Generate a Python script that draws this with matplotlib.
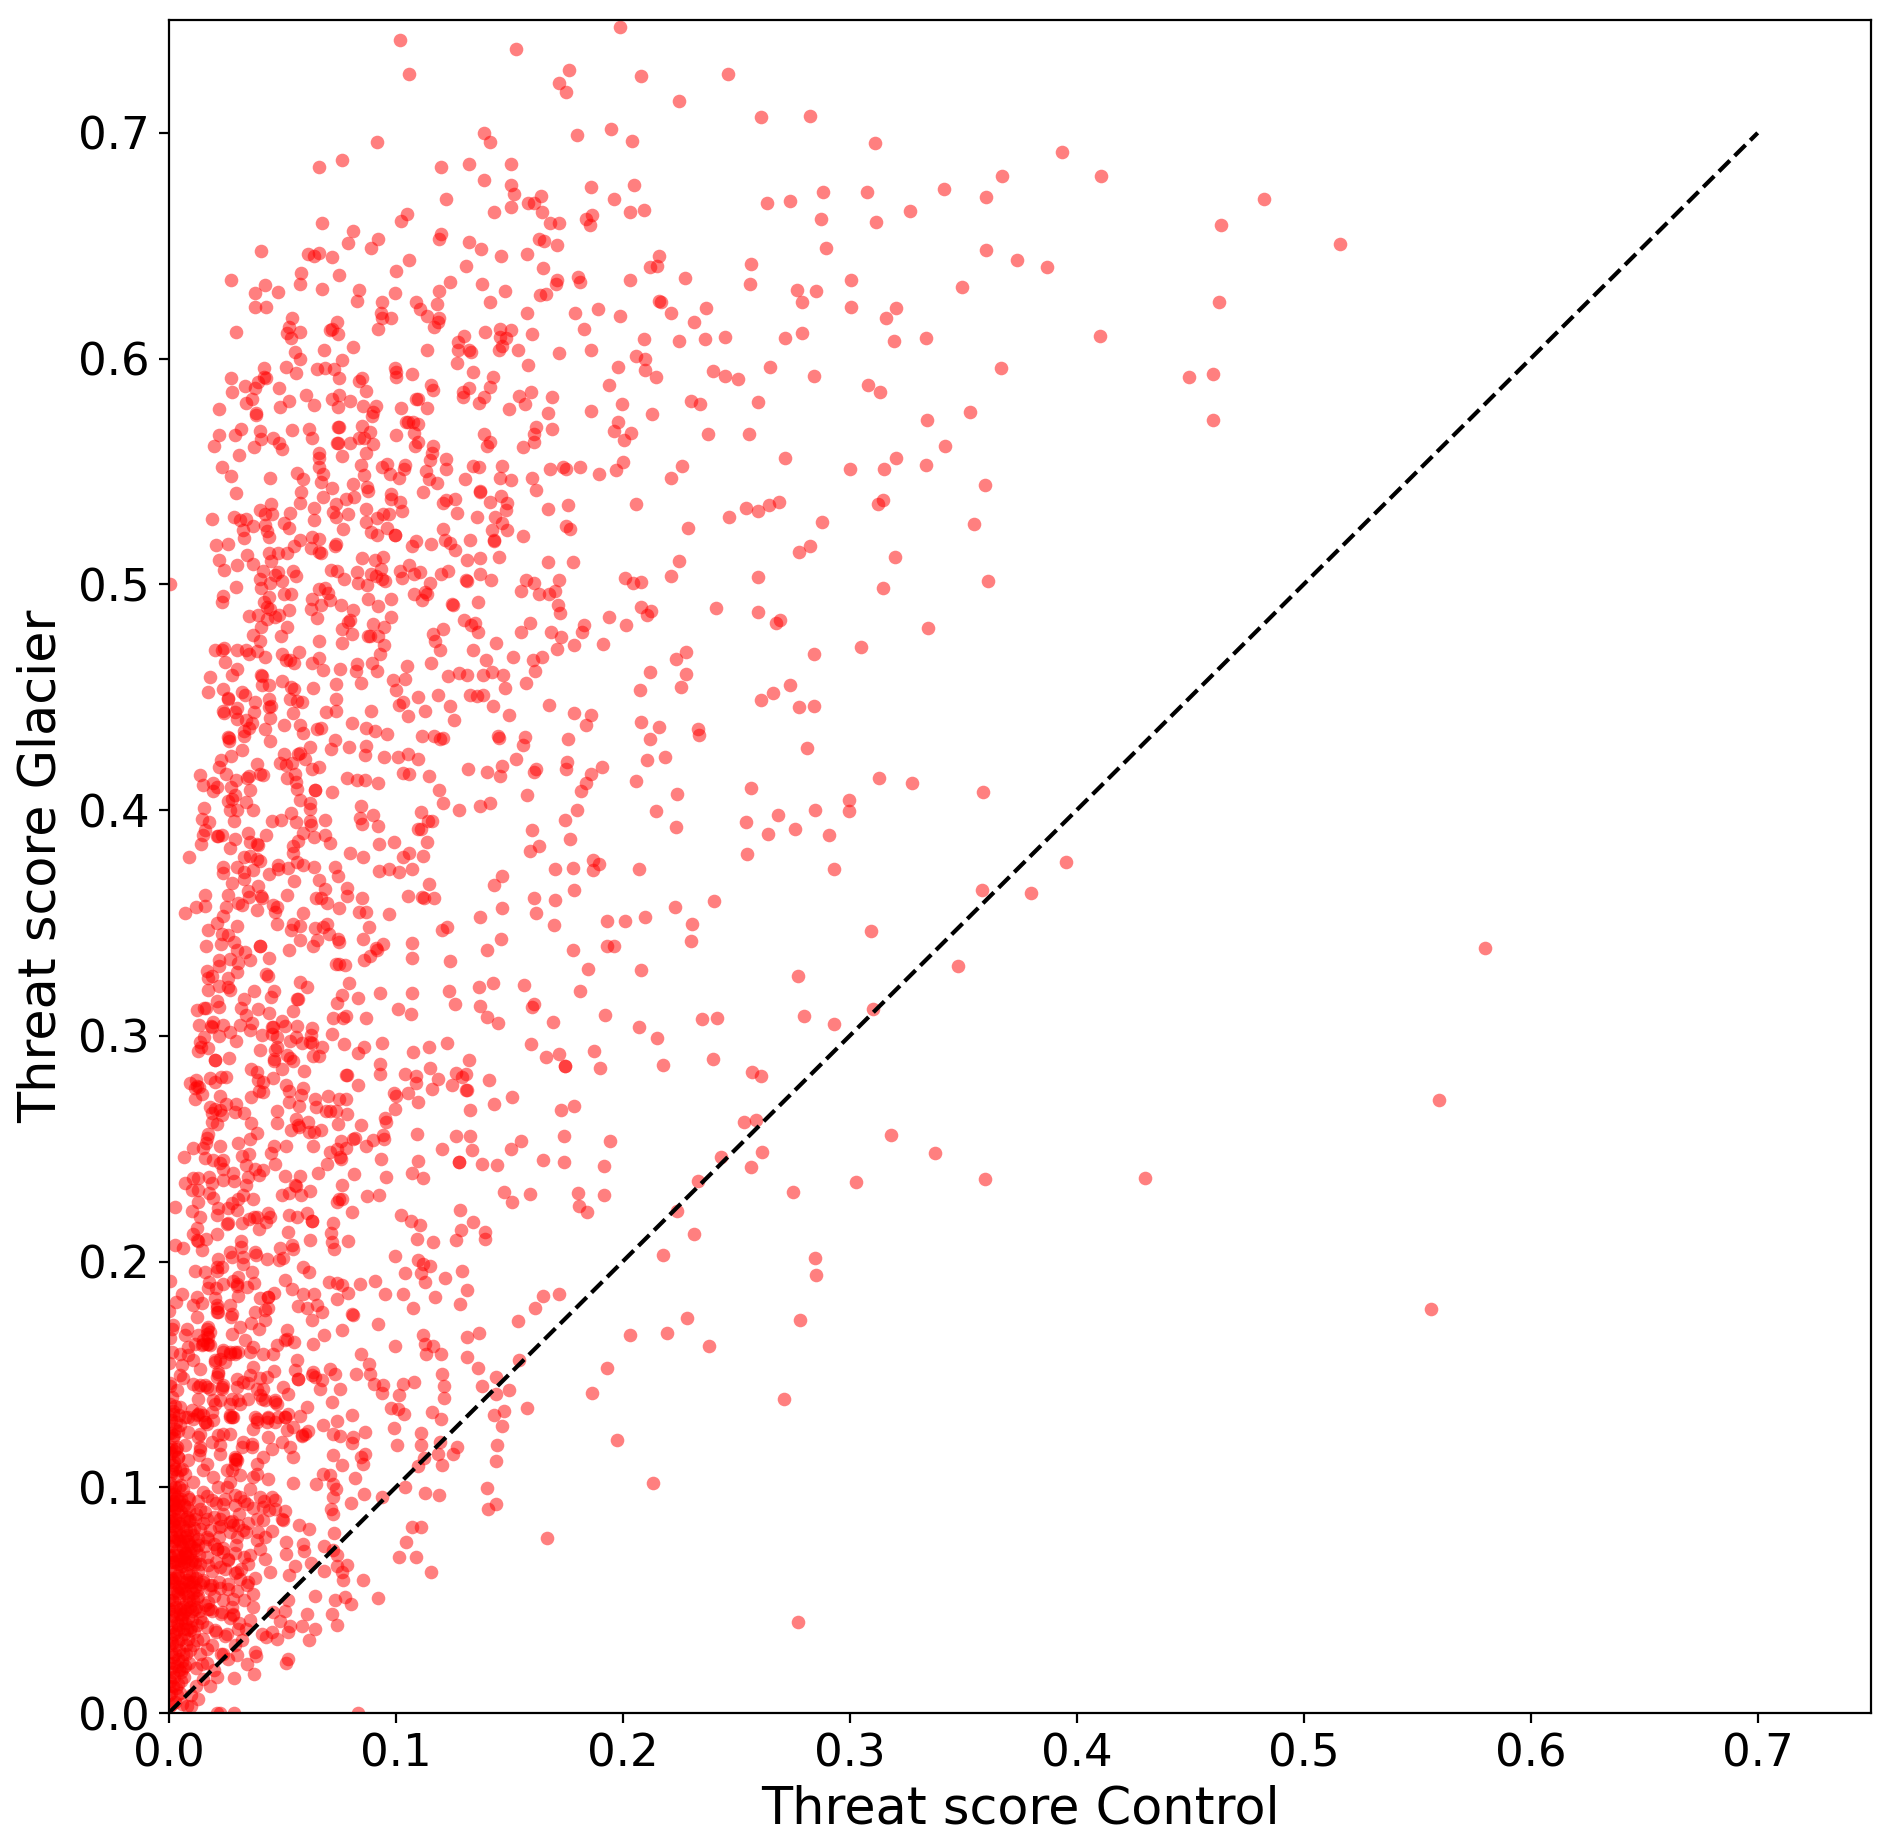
import numpy as np
import matplotlib
matplotlib.use("Agg")
import matplotlib.pyplot as plt

# Control, Glacier pairs, one list per part of the cloud
band_top = [
.102,.741,.106,.726,.153,.737,.1765,.728,.172,.722,.175,.718,.199,.747,.208,.725,.139,.700,.1415,.696,
.0916,.696,.180,.699,.195,.7015,.204,.6965,.066,.685,.0765,.688,.120,.685,.1325,.686,.151,.686,.139,.679,
.151,.677,.152,.673,.186,.676,.205,.677,.122,.6705,.1585,.669,.161,.669,.164,.672,.151,.667,.1435,.665,
.1645,.665,.196,.6705,.203,.665,.2095,.666,.168,.660,.172,.660,.184,.662,.1865,.6635,.1855,.659,.105,.664,
.1025,.661,.0675,.660,.081,.6565,.092,.653,.079,.651,.089,.649,.0405,.6475,.0615,.6465,.064,.6455,.066,.647,
.072,.645,.106,.6435,.120,.655,.119,.653,.1325,.6515,.1375,.6485,.1465,.6455,.158,.6465,.163,.653,.1655,.652,
.171,.6505,.100,.639,.131,.641,.165,.640,.1805,.636,.181,.634,.203,.635,.171,.635,.1705,.633,.212,.6405,
.215,.641,.216,.6455,.0275,.635,.0425,.6325,.038,.629,.048,.6295,.058,.633,.0585,.638,.0675,.631,.075,.637,
.084,.6305,.083,.6255,.038,.623,.043,.623,.0995,.629,.094,.625,.109,.625,.1105,.622,.119,.630,.124,.634,
.138,.633,.148,.630,.1635,.628,.166,.6285,.1415,.625,.118,.624,.216,.6255,.179,.620,.189,.622,.199,.619,
.158,.620,.0545,.618,.053,.614,.052,.6115,.054,.609,.058,.612,.074,.616,.072,.613,.071,.6125,.0745,.611,
.0935,.62,.094,.618,.098,.618,.092,.613,.114,.619,.119,.618,.1185,.616,.117,.614,.0295,.612,.130,.610,
.1275,.6075,.1395,.612,.146,.613,.151,.6125,.146,.6095,.1485,.609,.160,.611,.183,.613,.2095,.6085,.1275,.604,
.1325,.604,.133,.603,.147,.6055,.1455,.604,.154,.604,.114,.604,.081,.605,.0685,.604,.0555,.603,.058,.600,
.172,.6025,.186,.604,.206,.601,.210,.600,.0765,.5995,.127,.598,.1585,.597,.198,.5965,.210,.595,.2145,.592,
.042,.596,.0515,.5965,.0655,.5955,.069,.596,.073,.5955,.056,.5935,.0995,.596,.100,.594,.100,.592,.134,.594,
.107,.593,.143,.592,.042,.592,.043,.5915,.0275,.5915,.0395,.5895,.0335,.588,.038,.587,.075,.5915,.084,.590,
.085,.5915,.1155,.5885,.1165,.586,.1325,.587,.1415,.5875,.194,.5885,.0485,.587,.087,.5855,.028,.585,.1295,.585,
.1295,.583,.1595,.585,.1545,.5835,.157,.580,.169,.583,.075,.584,.072,.582,.0605,.584,.139,.583,.109,.582,
.110,.582,.0365,.582,.034,.5805,.053,.581,.080,.581,.1365,.5805,.1995,.580,.064,.5795,.049,.5785,.0855,.579,
.0915,.579,.0745,.5785,.114,.578,.022,.5775,.1025,.578,.150,.5775,.186,.577,.167,.576,.213,.5755,.0385,.576,
.0385,.575,.090,.5765,.0895,.5745,.1045,.572,.1055,.572,.1075,.572,.110,.571,.198,.572,.075,.5695,.0745,.5695,
.085,.570,.032,.569,.0545,.5685,.062,.569,.162,.5695,.161,.5665,.169,.569,.040,.568,.0885,.5675,.108,.567,
.196,.568,.2035,.567,.022,.566,.029,.566,.139,.5665,.046,.565,.063,.565,.084,.565,.086,.565,.0405,.5645,
.2005,.564,.100,.566,.074,.5625,.0745,.5625,.080,.5625,.090,.562,.110,.563,.1085,.5615,.0485,.5625,.1415,.563,
.140,.5615,.161,.563,.1165,.5615,.020,.5615,.0375,.561,.050,.560,.156,.561,.031,.5575,.087,.558,.116,.558,
.066,.558,.066,.556,.0765,.557,.115,.555,.122,.5555,.0845,.553,.096,.5535,.094,.552,.104,.553,.1035,.551,
.0235,.552,.066,.552,.134,.5525,.1365,.552,.147,.5525,.181,.552,.1735,.552,.175,.551,.200,.554,.122,.551,
.168,.551,.197,.5505,.1135,.550,.0565,.5495,.068,.549,.0975,.549,.1895,.549,.086,.5485,.0275,.548,.1015,.547,
.0445,.547,.059,.5465,.1145,.5465,.1305,.5465,.146,.547,.151,.546,.160,.547,.067,.5455,.118,.545,.081,.5445,
.072,.5425,.162,.542,.0585,.541,.0875,.543,.088,.5415,.0295,.5405,.098,.540,.112,.541,.137,.5415,.137,.541,
.1465,.539,.068,.5385,.078,.538,.0815,.5385,.098,.538,.126,.538,.122,.5375,.102,.5365,.149,.536,.1415,.5365,
]

band_mid = [
.0192,.529,.0288,.530,.0314,.5285,.034,.529,.0326,.524,.0373,.526,.040,.533,.0426,.531,.0455,.531,.0424,.5265,
.0435,.5235,.044,.521,.033,.5205,.045,.5355,.0535,.5315,.051,.527,.053,.525,.058,.536,.064,.534,.064,.5285,
.058,.5195,.055,.517,.063,.521,.0664,.520,.0626,.516,.0664,.5145,.067,.514,.0725,.532,.0737,.530,.0735,.5355,
.079,.531,.0767,.5245,.0733,.517,.0737,.518,.087,.5335,.0868,.5275,.0916,.5295,.0943,.531,.0972,.531,.1026,.5325,
.096,.525,.089,.523,.0916,.522,.0997,.522,.0997,.522,.021,.5175,.026,.518,.0223,.511,.0245,.5065,.030,.5085,
.0344,.513,.037,.509,.044,.514,.0483,.514,.052,.5137,.045,.5105,.085,.5115,.0909,.511,.0943,.512,.0935,.507,
.083,.5055,.089,.5045,.0913,.5035,.0938,.5025,.0953,.5015,.0715,.5065,.074,.506,.0774,.5025,.0834,.5005,.0875,.4995,
.0417,.506,.0547,.506,.056,.5035,.040,.5025,.047,.504,.048,.5055,.050,.5015,.0446,.5005,.0407,.4985,.0295,.499,
.0006,.5,.024,.495,.0236,.492,.066,.498,.069,.4985,.0703,.496,.071,.493,.051,.4955,.054,.4955,.063,.4935,
.067,.491,.0627,.489,.0655,.485,.042,.492,.044,.4945,.0435,.490,.0446,.489,.053,.4885,.076,.491,.081,.4885,
.092,.4905,.088,.4935,.098,.4935,.0354,.486,.0395,.4865,.0435,.4845,.047,.4855,.0487,.4865,.052,.481,.0405,.481,
.037,.4775,.040,.475,.0494,.477,.079,.4835,.0798,.484,.0765,.480,.0806,.478,.0762,.474,.090,.4825,.095,.481,
.088,.477,.0885,.477,.0924,.477,.098,.4855,.095,.473,.093,.469,.0897,.465,.0916,.4615,.066,.475,.0205,.471,
.0233,.471,.0245,.472,.030,.471,.034,.471,.0355,.469,.0388,.4705,.0426,.468,.050,.469,.0517,.4665,.0535,.4665,
.0552,.465,.0576,.470,.0664,.4675,.063,.465,.068,.462,.0755,.4625,.083,.4645,.0825,.4615,.0846,.4565,.0247,.4655,
.030,.4625,.0278,.460,.018,.459,.0173,.4525,.0405,.460,.041,.4595,.041,.4555,.044,.4555,.050,.457,.054,.4545,
.0554,.4535,.0637,.454,.0736,.456,.024,.4535,.026,.4495,.026,.449,.0325,.4525,.0336,.451,.038,.448,.030,.445,
.024,.444,.0243,.443,.029,.4435,.030,.4405,.044,.449,.044,.4455,.045,.446,.0375,.4435,.0448,.441,.0535,.449,
.0564,.4485,.0586,.448,.0547,.443,.0735,.449,.0693,.4435,.0738,.444,.0892,.444,.034,.440,.0367,.4385,.0355,.4365,
.033,.435,.0333,.433,.0425,.436,.0507,.4375,.058,.4375,.059,.434,.0652,.436,.067,.4365,.0807,.4385,.087,.4365,
.0909,.435,.0963,.4335,.0263,.4325,.0266,.432,.0264,.4305,.0445,.4305,.0325,.4265,.0275,.424,.0733,.431,.0714,.427,
.0796,.428,.087,.4285,.0865,.4245,.0624,.428,.058,.4255,.0571,.425,.060,.4225,.0508,.425,.049,.421,.0517,.420,
.0542,.421,.023,.422,.022,.419,.0254,.416,.0138,.4155,.0153,.411,.0197,.412,.0212,.410,.0197,.4085,.0273,.410,
.0297,.4135,.039,.4205,.0417,.4155,.040,.416,.0355,.415,.0347,.414,.0358,.409,.066,.419,.063,.418,.0557,.416,
.052,.414,.0561,.4125,.0564,.4095,.0646,.409,.0646,.409,.072,.408,.0292,.4065,.0263,.404,.0277,.405,.027,.4,
.030,.400,.034,.4035,.037,.400,.058,.4045,.0623,.403,.0623,.4005,.0785,.414,.083,.4135,.0865,.4135,.0924,.412,
.095,.4235,.101,.4235,.1055,.425,.110,.4225,.1034,.4165,.1057,.416,.1147,.415,.119,.409,.121,.403,.1277,.400,
.137,.402,.1414,.403,.1317,.418,.140,.417,.146,.415,.147,.4195,.153,.4225,.1115,.433,.117,.433,.1195,.4315,
.121,.432,.145,.433,.1455,.432,.157,.4325,.156,.429,.176,.4315,.212,.4315,.208,.439,.2076,.453,.212,.461,
.1785,.443,.186,.442,.184,.4375,.161,.417,.1616,.418,.1755,.4215,.175,.418,.1907,.419,.186,.416,.184,.412,
.1816,.4085,.206,.413,.2108,.422,.158,.4065,.180,.400,.2145,.3995,.1745,.3955,.160,.391,.177,.387,.163,.384,
.159,.382,.187,.378,.1895,.376,.187,.3735,.178,.3745,.170,.374,.2074,.374,.147,.371,.1435,.367,.1785,.3645,
.161,.361,.170,.360,.147,.3565,.162,.3545,.137,.3525,.167,.5335,.176,.535,.206,.5355,.175,.526,.177,.5245,
.1562,.5215,.167,.51,.1783,.510,.201,.503,.2047,.5007,.208,.501,.1573,.502,.161,.5005,.155,.497,.163,.4957,
.1677,.4957,.170,.497,.172,.502,.1717,.4907,.1724,.4875,.194,.4855,.2013,.482,.208,.490,.2108,.4865,.2125,.488,
.183,.482,.182,.479,.1915,.4737,.1686,.479,.173,.4765,.171,.4715,.1785,.473,.159,.483,.1554,.479,.1646,.468,
.1606,.4663,.1615,.4617,.1574,.4565,.1515,.468,.144,.474,.134,.471,.1398,.4665,.1474,.460,.1423,.461,.1386,.460,
.148,.454,.1328,.451,.1357,.4505,.1386,.451,.143,.446,.150,.442,.1677,.4467,.128,.4605,.1316,.460,.123,.4595,
.1186,.451,.124,.446,.1255,.440,.1128,.444,.1054,.4418,.1015,.4465,.1034,.448,.110,.45,.1,.453,.104,.458,
.099,.4575,.105,.464,.1155,.465,.1197,.471,.1175,.475,.1165,.478,.121,.480,.130,.484,.133,.482,.135,.483,
.1363,.479,.1364,.4923,.1246,.4915,.1254,.491,.108,.4957,.1115,.493,.113,.4967,.114,.4955,.1153,.5005,.120,.5045,
.123,.506,.131,.502,.1312,.5015,.137,.5045,.142,.502,.102,.506,.1028,.503,.1057,.5085,.108,.5045,.1107,.5055,
.1313,.511,.137,.5115,.1455,.512,.1218,.5195,.124,.5185,.126,.515,.1328,.5195,.1155,.5177,.107,.517,.109,.519,
.121,.5245,.1435,.5195,.1433,.519,.1426,.524,.147,.527,.149,.524,.1437,.530,.1485,.533,.1357,.530,.127,.5315,
.121,.536,.0154,.4007,.0148,.396,.0178,.3945,.016,.391,.0153,.389,.0141,.385,.0214,.3886,.0218,.3885,.0233,.389,
.0288,.395,.029,.387,.027,.383,.009,.379,.035,.3897,.043,.389,.0358,.386,.0388,.385,.0393,.3845,.0455,.395,
.0496,.3955,.054,.3985,.056,.3945,.0623,.395,.0627,.3935,.069,.3955,.059,.39,.057,.3865,.0642,.388,.069,.389,
.071,.3855,.0546,.384,.0549,.381,.0846,.402,.0843,.3965,.085,.394,.09,.398,.0924,.393,.111,.399,.1144,.395,
.116,.395,.110,.3915,.111,.3915,.114,.386,.0926,.385,.0993,.3857,.080,.381,.0855,.379,.106,.381,.1034,.379,
.112,.3795,.0928,.373,.097,.374,.1013,.3725,.107,.374,.1148,.3672,.1054,.362,.1115,.3615,.1125,.361,.117,.361,
.064,.3747,.0733,.3747,.0747,.371,.066,.369,.069,.365,.0784,.3655,.0787,.362,.085,.361,.065,.361,.067,.361,
.0696,.3587,.075,.3565,.0837,.355,.087,.355,.097,.354,.0300,.375,.024,.375,.024,.372,.033,.379,.036,.3795,
.039,.3785,.040,.3775,.033,.3727,.0373,.3735,.033,.3695,.048,.3757,.0483,.374,.0527,.3745,.0567,.377,.0593,.3757,
.0442,.3717,.055,.3687,.0277,.3675,.0263,.3625,.016,.3625,.016,.3575,.012,.357,.0073,.3545,.035,.364,.0355,.3615,
.0394,.3665,.0407,.362,.041,.361,.052,.3625,.0253,.357,.0321,.358,.0307,.3587,.0388,.3557,.0458,.358,.047,.355,
.0475,.357,.0593,.3545,
]

band_low = [
.0175,.347,.0214,.350,.0241,.353,.030,.3485,.0235,.3453,.0263,.3446,.0288,.3417,.0165,.3397,.023,.3405,.03,.3382,
.0336,.3372,.0402,.3398,.0402,.3398,.036,.3335,.0443,.3343,.022,.3335,.027,.334,.0307,.3323,.022,.331,.0303,.3283,
.017,.3288,.0190,.3265,.0175,.3258,.0263,.3255,.022,.322,.0263,.3217,.027,.3205,.0175,.3205,.043,.3273,.0437,.3267,
.0476,.3497,.0546,.3495,.058,.3487,.0537,.3468,.058,.3424,.053,.3382,.0645,.3478,.068,.3483,.0696,.3495,.0706,.345,
.0748,.343,.0752,.3417,.0655,.3424,.0637,.3398,.0884,.3483,.0854,.343,.0862,.3335,.0887,.3352,.0916,.338,.0913,.339,
.0942,.3405,.0736,.3317,.075,.332,.0777,.3315,.1073,.341,.1073,.3345,.1203,.347,.1225,.3483,.1238,.3332,
.140,.3382,.1463,.3427,.1696,.349,.178,.3382,.1846,.3294,.193,.351,.201,.351,.210,.3527,.193,.3398,.196,.3397,
.208,.329,.058,.324,.0608,.3214,.0794,.3234,.0763,.318,.0833,.3168,.0743,.3146,.0932,.319,.1073,.319,.1233,.32,
.126,.3143,.1366,.3214,.1427,.3234,.1373,.3133,.140,.3084,.145,.3055,.1567,.3223,.1608,.314,.16,.3128,.1693,.306,
.1813,.32,.192,.3093,.2072,.304,.215,.299,.0374,.32,.0465,.32,.045,.317,.0564,.3165,.0568,.3165,.0546,.311,
.033,.3162,.032,.3124,.0340,.3092,.0395,.312,.0443,.31,.0213,.3153,.0223,.3128,.0157,.3125,.0164,.3125,.0123,.3114,
.0134,.305,.0197,.3062,.0185,.3043,.019,.304,.024,.3046,.022,.3,.027,.3018,.0314,.3047,.0358,.3025,.0368,.3055,
.0498,.3065,.0511,.3043,.0454,.3037,.0458,.304,.0567,.3044,.0633,.3035,.0725,.3081,.077,.3077,.078,.3087,.087,.308,
.1008,.3118,.1068,.3096,.0718,.3006,.0626,.3003,.0623,.2973,.056,.2993,.0535,.2976,.0587,.297,.0630,.2966,.0677,.295,
.0413,.3003,.0454,.301,.0476,.2993,.0297,.2976,.0156,.2993,.0138,.2973,.0141,.295,.0131,.2933,.0172,.2944,.0402,.2939,
.0479,.295,.0468,.2936,.052,.2914,.0535,.29,.0546,.2888,.0464,.2897,.0462,.289,.0637,.291,.0664,.291,.0204,.2892,
.0204,.2892,.0264,.29,.0772,.2962,.0832,.2926,.086,.295,.0938,.2966,.1075,.293,.1147,.295,.1225,.297,.1595,.2962,
.166,.2906,.1721,.2919,.1747,.2867,.1747,.2867,.1872,.2932,.1902,.2857,.1325,.2892,.1153,.2858,.0931,.2875,.0932,.283,
.1041,.283,.1088,.282,.1088,.279,.1188,.281,.1158,.2764,.1266,.2836,.129,.2817,.131,.283,.125,.278,.131,.276,
.1315,.276,.1412,.2803,.0786,.2827,.0782,.2827,.0833,.2784,.0596,.2845,.05,.2852,.0361,.2855,.0388,.284,.046,.2814,
.0395,.2804,.0417,.2796,.0253,.2818,.023,.2818,.0182,.2812,.0204,.2796,.0094,.2789,.0120,.2803,.0126,.2778,.0135,.2774,
.0116,.2767,.0145,.2744,.0116,.2718,.0226,.2734,.0362,.273,.0398,.2756,.0417,.275,.0517,.278,.0531,.2757,.0593,.2767,
.0583,.2737,.0531,.2707,.0253,.27,.0297,.2696,.0292,.2663,.0333,.2656,.0182,.2685,.0204,.2674,.0226,.267,.0233,.2648,
.0189,.2656,.0189,.262,.0212,.261,.0479,.2666,.0479,.2612,.0361,.2615,.0391,.257,.0358,.2542,.0574,.269,.0647,.2685,
.0645,.2722,.07,.2734,.0752,.272,.078,.2722,.0695,.2668,.071,.2667,.0735,.2666,.0786,.2653,.0745,.261,.0847,.2606,
.0997,.2674,.0994,.2748,.1002,.2733,.1052,.2748,.11,.2707,.0955,.2637,.0957,.262,.1328,.267,.1435,.2696,.1512,.273,
.1728,.267,.1787,.2688,.056,.263,.0571,.2604,.0574,.2595,.0537,.2582,.0615,.262,.062,.2572,.064,.2572,.067,.2582,
.1093,.2563,.1267,.2556,.1327,.2556,.155,.2535,.1508,.2498,.174,.2557,.1945,.2533,.0821,.2547,.0814,.2545,.09,.254,
.0946,.256,.095,.2543,.0869,.2512,.0759,.2532,.074,.25,.078,.2505,.071,.2486,.0637,.2511,.0168,.2549,.0175,.2567,
.0165,.2526,.0153,.2501,.0109,.2505,.0224,.2512,.0304,.2525,.0466,.2511,.0517,.2514,.0451,.2479,.0468,.2431,.0068,.2464,
.0160,.2457,.0197,.2452,.0238,.2452,.0225,.2435,.0324,.2468,.0355,.2476,.0755,.2461,.0757,.2455,.0696,.243,.0659,.239,
.0818,.2387,.0934,.2456,.1204,.25,.1335,.2493,.1097,.2446,.1279,.2442,.1279,.2442,.1379,.243,.1445,.2427,.1651,.2452,
.174,.2439,.1917,.2424,.107,.239,.1122,.2371,.0957,.2375,.0341,.2427,.0241,.2412,.0282,.2393,.0378,.2412,.0417,.2405,
.0398,.2383,.0351,.2375,.0241,.236,.0288,.2358,.0341,.2338,.0109,.2372,.0131,.2371,.0179,.2375,.0189,.2346,.0073,.2346,
.0101,.2316,.0131,.2316,.0179,.2302,.0197,.228,.0513,.2381,.0579,.2381,.0557,.2341,.0561,.2335,.0530,.2302,.05,.2293,
.0583,.2293,.0623,.2313,.0763,.2341,.0874,.229,.0928,.2294,.1476,.2308,.1514,.2264,.1592,.2297,.1802,.2305,.1918,.2295,
.1808,.2247,.1844,.2218,.0750,.2277,.0762,.2275,.0740,.2265,.1285,.2228,.0806,.2218,.1024,.2206,.1066,.2179,.1107,.2161,
.1342,.2176,.1288,.214,.1394,.2132,.1394,.2102,.1267,.2095,.1095,.2102,.1165,.2087,.0722,.2169,.0715,.2127,.0721,.2086,
.0789,.2093,.0730,.2054,.0621,.2095,.0329,.2294,.0373,.2276,.0307,.2276,.0277,.2261,.0263,.2236,.0303,.2228,.0131,.2265,
.0138,.2199,.0101,.2225,.0028,.2242,.0219,.2236,.0211,.2206,.0376,.2198,.0388,.2198,.0439,.2216,.0446,.2198,.0429,.2176,
.0398,.2144,.0355,.2188,.0322,.2169,.0530,.2206,.0564,.2198,.0608,.2216,.0630,.2179,.0630,.2179,.0526,.2132,.0263,.2169,
.0255,.2165,.0214,.2121,.0123,.2147,.0109,.2121,.0123,.2095,.013,.2092,.0165,.2102,.0028,.2072,.0062,.206,.0145,.205,
.0317,.209,.0317,.2063,.0270,.2041,.0278,.2022,.0329,.2019,.0329,.1990,.0380,.2041,.0385,.203,.0432,.2011,.0491,.2060,
.0542,.2072,.0549,.2054,.0502,.2014,.0488,.2005,.0996,.2026,.1100,.2007,.1122,.199,.1152,.1979,.1110,.1949,.1043,.1947,
.1217,.1929,.1291,.1956,.1129,.1911,.1316,.1872,.1173,.1843,.1032,.1854,.0953,.1854,.1650,.1848,
.1719,.1858,.0216,.2011,.0214,.1974,.0214,.1956,.0233,.1974,.0116,.1959,.0160,.1952,.0307,.1930,
.0285,.1915,.0300,.1893,.0366,.1955,.0377,.1906,.0347,.1887,.0179,.1910,.0175,.1884,.0209,.1884,.0238,.1899,.0057,.1854,
.0304,.1847,.0006,.1913,.0513,.1920,.0593,.1974,.0620,.1955,.0542,.1878,.0590,.1857,.0642,.1854,.0708,.1911,.0740,.1903,
.0765,.1896,.0789,.1862,.0843,.1899,.0909,.1914,.0402,.1837,.0439,.1844,.0466,.1862,.0126,.1844,.0204,.1837,
.0741,.1833,
]

band_base = [
.1078,.1796,.1283,.181,.1614,.1796,.1539,.1737,.0924,.1725,.0809,.1769,.0812,.1765,.1369,.1685,.1316,.1666,.1119,.1673,
.1129,.1636,.1163,.1626,.1134,.1592,.120,.1592,.0997,.1625,.1314,.1577,.1364,.153,.1543,.1565,.1203,.15,.1213,.1449,
.1214,.1397,.1443,.1489,.1379,.145,.1501,.143,.1442,.1415,.158,.1353,.1476,.1338,.1433,.1319,.1470,.1273,.1446,.1189,
.1441,.1115,.1401,.0998,.1443,.0925,.1408,.0902,.1081,.1467,.1034,.1456,.1015,.141,.0978,.1351,.1012,.1345,.1038,.1323,
.1161,.1334,.12,.1304,.0993,.1264,.1112,.1242,.1006,.1189,.1112,.1187,.1195,.12,.1269,.1179,.1254,.1149,.1188,.1146,
.1203,.11,.1126,.1131,.11,.1094,.1041,.1001,.1128,.0975,.1191,.0964,.107,.0824,.1112,.0824,.1044,.0758,.1016,.0691,
.1091,.0691,.1154,.0626,.0849,.1592,.0884,.1545,.0887,.15,.0905,.1459,.0946,.1452,.0941,.1419,.0824,.15,.0755,.1437,
.0721,.1378,.0806,.1319,.0865,.1244,.074,.1292,.0681,.1275,.0725,.1238,.0755,.1226,.0814,.1223,.0806,.1196,.0866,.1149,
.0846,.1134,.0858,.1105,.0724,.1142,.0765,.1099,.0819,.1043,.0861,.0972,.0938,.0957,.0802,.0932,.0681,.106,.0648,.1013,
.0711,.1053,.0725,.1013,.0737,.0991,.0725,.0957,.0714,.0905,.0722,.0883,.0549,.1019,.0576,.0834,.062,.0815,.0728,.0799,
.0517,.0758,.0593,.0750,.0684,.0738,.0722,.0721,.0517,.0703,.0598,.0718,.074,.0699,.0626,.0666,.0558,.0651,.0784,.0657,
.0743,.065,.0686,.0628,.0532,.061,.0445,.0625,.0764,.0625,.0769,.0588,.0858,.0591,.0645,.0518,.0524,.0499,.0733,.0499,
.0777,.0514,.0802,.0484,.0922,.0509,.0512,.0452,.0461,.0447,.0611,.044,.049,.0408,.0718,.044,.0740,.0388,.0534,.0384,
.0589,.0384,.0646,.0372,.0527,.0359,.041,.0349,.0454,.0359,.0429,.0337,.0476,.0329,.0618,.0325,.038,.027,.0383,.0251,
.0344,.0219,.0524,.0241,.0517,.0222,.0374,.0171,.0286,.0155,.0214,0,.0226,0,.0286,0,.0833,0,
.0032,.1821,.0105,.1806,.0145,.1817,.0211,.1792,.0219,.1777,.0270,.1806,.0273,.1755,.0380,.1777,.0123,.1755,.0424,.1784,
.0439,.1792,.0424,.1743,.0570,.1802,.0608,.1792,.0652,.1806,.0674,.1777,.0630,.1743,.0021,.1718,.0079,.1703,.0314,.171,
.0363,.1728,.0399,.1703,.0175,.171,.0182,.1688,.0167,.1681,.052,.1695,.0512,.1651,.0554,.1644,.0684,.1676,.0765,.1695,
.0634,.1636,.0072,.1673,.0131,.1673,.0278,.1681,.0336,.1651,.0153,.1651,.0167,.1636,.0182,.1629,.0145,.1629,.0087,.1622,
.0241,.1607,.0270,.1599,.0292,.1599,.0307,.1599,.0373,.1622,.0358,.1599,.0417,.1592,.0461,.1592,.0476,.1629,.005,.1592,
.0013,.16,.0087,.1585,.0226,.157,.0204,.1555,.0248,.1555,.0106,.1563,.0057,.154,.0138,.1526,.0564,.1565,.0557,.1518,
.0571,.1481,.0464,.1515,.0432,.1489,.0373,.1533,.0637,.1511,.0645,.1489,.0674,.1474,.0711,.1526,.0733,.15,.0667,.1437,
.0219,.1511,.0211,.1489,.0358,.1496,.0402,.1486,.03,.1481,.005,.1496,.0065,.1486,.0109,.1459,.0138,.1452,.0160,.1452,
.0182,.1437,.0233,.1437,.0241,.1452,.03,.1444,.0329,.1467,.0351,.1462,.0035,.143,.0131,.1393,.0197,.1385,.0226,.1385,
.0278,.1393,.0307,.1385,.0351,.1393,.0388,.1437,.0417,.1437,.0505,.1444,.0527,.1415,.041,.1393,.0424,.1385,.0468,.1385,
.0476,.137,.0608,.1356,.0527,.1326,.005,.1356,.0101,.1341,.0138,.1334,.027,.1371,.0314,.1371,.0021,.1326,.0072,.1312,
.0109,.1304,.0167,.1282,.0189,.1334,.027,.1312,.0285,.1312,.038,.1312,.0439,.1309,.0483,.1312,.0512,.1312,.0579,.1314,
.0123,.1319,.0153,.1319,.016,.1289,.005,.1275,.0373,.126,.0388,.1289,.0432,.1289,.0468,.1289,.052,.1255,.0549,.1267,
.0615,.1249,.0586,.1226,.06,.1235,.0439,.1223,.0087,.1245,.0138,.1238,.027,.1238,.0189,.12,.0241,.1238,.0329,.12,
.0366,.119,.0498,.12,.0535,.1179,.0072,.1186,.0138,.1179,.0135,.1142,.0226,.1186,.0226,.1149,.0292,.1134,.03,.112,
.0292,.1105,.0417,.1134,.0454,.1171,.0322,.1179,.0366,.1179,.0546,.1134,.0043,.1134,.0087,.1119,.005,.1075,.0072,.106,
.0167,.1105,.0153,.1075,.0256,.1075,.0278,.1075,.0314,.1053,.0388,.1105,.0373,.1046,.0388,.106,.0439,.1038,.0109,.1023,
.0065,.0987,.0197,.1046,.027,.1023,.0219,.1001,.0153,.0979,.0256,.1001,.0358,.0994,.0402,.0957,.0454,.0957,.0468,.0942,
.0035,.0957,.0087,.0957,.0021,.0927,.0079,.0913,.0138,.0905,.0189,.0942,.0241,.0927,.0292,.0964,.0314,.0957,.0344,.0927,
.0417,.0913,.0468,.0905,.0512,.0895,.0502,.0854,.0094,.0854,.0167,.0861,.0226,.0861,.027,.0846,.0285,.0831,.0329,.0809,
.0417,.0854,.0138,.0817,.0175,.0772,.0223,.0824,.0395,.0802,.0454,.0806,.0388,.0765,.0424,.078,.0131,.0743,.0211,.0728,
.0241,.0713,.0263,.0684,.0295,.0746,.0402,.0728,.0424,.0684,.0351,.0662,.0116,.0669,.0175,.0654,.0226,.0647,.03,.0625,
.0314,.0595,.0153,.0588,.0189,.0566,.0226,.0555,.0263,.0551,.0344,.0566,.0123,.0543,.0373,.0529,.0285,.0507,.0373,.0470,
.0182,.0462,.0175,.0492,.0233,.0447,.0285,.044,.0358,.0411,.0204,.0366,.0307,.0374,.0145,.0403,.0094,.0366,.0256,.0351,
.0322,.0322,.0123,.0322,.0167,.0285,.0241,.0263,.03,.0256,.0145,.0219,.0211,.016,
]

cluster_low = [
.0167,.1703,.0153,.1636,.0175,.1636,.0175,.1666,.0211,.1806,.0211,.1777,.0300,.1902,.0204,.1563,.0219,.1503,.0241,.16,
.0292,.1592,.0270,.1592,.0087,.1311,.0131,.1326,.0160,.1289,.0197,.1297,.0270,.1319,.0277,.1311,.0388,.1304,.0439,.1311,
.0513,.1311,.0403,.1407,.0469,.1378,.0234,.1444,.0168,.1444,.0131,.1444,.0204,.1371,.0131,.1223,.0138,.1164,.0219,.123,
.0043,.1134,.0292,.1127,.0298,.1125,.0586,.123,.0520,.1658,.0571,.1481,.0630,.1496,.0439,.1843,.0278,.1769,.0116,.1636,
.0072,.0706,.0182,.0566,.0175,.0462,.0285,.0433,.0211,.0728,.0307,.0831,.0498,.0861,
.009,.095,.013,.094,.017,.096,.021,.093,.025,.095,.029,.092,.033,.094,.037,.091,.042,.094,
.009,.09,.012,.088,.016,.089,.02,.087,.024,.088,.028,.085,.031,.088,.035,.084,.039,.086,.044,.09,
.011,.082,.015,.084,.018,.081,.023,.083,.027,.08,.03,.078,.034,.08,.017,.078,.013,.077,
.009,.075,.012,.072,.016,.074,.02,.075,.024,.073,.022,.078,.029,.071,.026,.068,.033,.069,.036,.07,
.01,.067,.014,.066,.017,.069,.021,.067,.025,.064,.019,.063,.029,.062,.032,.064,.035,.058,.038,.06,
.012,.06,.015,.058,.018,.055,.022,.058,.026,.057,.03,.054,.033,.05,.02,.052,.024,.05,.028,.047,
.013,.052,.016,.048,.012,.047,.019,.045,.023,.044,.027,.042,.031,.04,.034,.037,
.014,.042,.017,.038,.021,.036,.025,.034,.029,.03,.015,.033,.019,.03,.023,.026,.026,.024,.017,.022,
.02,.019,.014,.026,.012,.02,.015,.015,.018,.012,.012,.012,.01,.008,.013,.006,.006,.004,.008,.003,.01,.003,
]

wedge_left = [
.0004,.003,.0012,.009,.0006,.014,.0018,.018,.0003,.022,.0009,.027,.0015,.031,.0005,.036,.0011,.041,.0002,.046,
.0013,.05,.0007,.055,.0016,.059,.0004,.064,.0010,.069,.0003,.074,.0014,.078,.0006,.083,.0012,.087,.0002,.092,
.0009,.097,.0005,.102,.0013,.107,.0003,.112,.0008,.118,.0002,.124,.0011,.13,.0004,.137,.0007,.146,.0002,.155,
.0006,.166,.0003,.178,.0028,.005,.0031,.011,.0024,.016,.0036,.021,.0027,.026,.0033,.03,.0023,.035,.0038,.04,
.0029,.045,.0025,.049,.0035,.054,.0022,.058,.0032,.063,.0026,.067,.0037,.072,.0024,.076,.0034,.081,.0028,.086,
.0023,.09,.0033,.095,.0027,.1,.0036,.105,.0025,.111,.0031,.117,.0022,.123,.0034,.129,.0026,.136,.0048,.009,
.0052,.014,.0044,.019,.0057,.023,.0046,.028,.0054,.033,.0043,.037,.0058,.042,.005,.046,.0045,.051,.0056,.055,
.0047,.06,.0053,.065,.0043,.07,.0057,.074,.0049,.079,.0044,.084,.0055,.089,.0046,.094,.0052,.101,.0059,.108,
.0068,.016,.0072,.021,.0064,.026,.0077,.03,.0066,.035,.0074,.04,.0063,.044,.0078,.049,.007,.053,.0065,.058,
.0076,.062,.0067,.067,.0073,.071,.0063,.076,.0077,.081,.0069,.086,.0089,.022,.0093,.028,.0084,.033,.0097,.038,
.0086,.042,.0094,.047,.0083,.052,.0098,.056,.009,.061,.0085,.066,.0096,.071,.0087,.076,.0092,.081,.0109,.03,
.0113,.036,.0104,.041,.0117,.046,.0106,.05,.0114,.056,.0103,.061,.0118,.066,.011,.073,.0105,.079,.0115,.086,
.0126,.039,.0132,.045,.0124,.051,.0137,.057,.0128,.063,.0134,.07,.0002,.008,.0016,.004,.0021,.012,.0035,.008,
.0041,.013,.0056,.018,.0062,.02,.0078,.026,.0002,.016,.0009,.02,.0001,.03,.0017,.025,.0008,.038,.0019,.043,
.0001,.05,.0009,.06,.0018,.067,.0001,.07,.0008,.079,.0019,.084,.0001,.088,.0018,.094,.0008,.1,.0019,.11,
.0041,.024,.0039,.032,.0042,.039,.0048,.044,.0041,.053,.004,.061,.0049,.068,.0041,.077,.0039,.083,.0041,.092,
.0061,.037,.0061,.047,.006,.056,.0062,.065,.0061,.073,.0079,.037,.0081,.046,.0079,.059,.0081,.069,.0079,.079,
.0101,.045,.0099,.058,.0101,.068,.0012,.115,.0017,.122,.0015,.14,.0038,.118,.0042,.125,.0044,.132,.0016,.17,
.0003,.012,.0022,.022,.0012,.033,.0031,.036,.0015,.044,.0034,.047,.0052,.041,.0071,.045,.0091,.05,.0108,.053,
.0021,.053,.0006,.058,.0029,.06,.0047,.056,.0068,.055,.0088,.058,.0107,.058,.0004,.067,.0023,.07,.0042,.066,
.0059,.069,.0078,.071,.0098,.074,.0116,.076,.0012,.074,.0032,.078,.0051,.076,.0071,.078,.0089,.085,.0009,.085,
.0025,.083,.0043,.088,.0061,.083,.0079,.087,.0014,.092,.0033,.091,.0052,.095,.0069,.092,.0006,.098,.0024,.097,
.0044,.1,.0008,.106,.0029,.108,.0003,.117,.0022,.116,.0011,.124,.0028,.126,.0006,.131,.0019,.134,.0004,.145,
]

right_side = [
.2246,.714,.2465,.726,.2608,.707,.2826,.7075,.3113,.6957,.3936,.6914,.4108,.6807,.3672,.6807,.3602,.6717,.3416,.675,
.3267,.6652,.3076,.6738,.2884,.6738,.2735,.67,.2634,.669,.2873,.662,.3118,.6604,.4825,.6706,.4634,.6594,.516,.6508,
.3602,.648,.3735,.6439,.3868,.6406,.3495,.6316,.2895,.6492,.2565,.6417,.256,.6332,.2273,.6358,.3006,.6348,.2767,.6305,
.2852,.63,.2789,.6251,.3203,.6225,.3161,.6182,.3006,.623,.4629,.6251,.3336,.609,.3193,.608,.4102,.61,.2789,.6112,
.2714,.609,.2449,.6096,.2369,.6225,.2364,.6086,.2316,.616,.2214,.6203,.2167,.6251,.2246,.608,.3666,.5957,.2651,.5963,
.2396,.5947,.2449,.5925,.2507,.5909,.2842,.5925,.4495,.592,.4602,.5931,.4602,.5727,.3081,.5882,.3135,.585,.2597,.5807,
.23,.5813,.2342,.5797,.3528,.5765,.3342,.5727,.3422,.5615,.2374,.5668,.2555,.5668,.2714,.5561,.3203,.5561,.3150,.5513,
.3001,.5513,.3336,.5529,.2263,.5524,.2214,.547,.3597,.5439,.3145,.5374,.3124,.5358,.3549,.5267,.2879,.5278,.247,.53,
.2544,.5337,.2597,.5326,.2645,.5353,.2688,.5364,.2289,.5251,.2826,.5171,.2778,.5144,.3198,.5123,.2246,.5102,.2214,.5037,
.3608,.5016,.2597,.5032,.3145,.4984,.2411,.4893,.2597,.4877,.2693,.4840,.2677,.4829,.3347,.4807,.3049,.4722,.2842,.469,
.2278,.47,.2236,.4668,.2278,.4604,.2257,.4545,.2735,.4556,.2661,.4519,.2608,.4487,.2778,.4455,.2842,.446,.2161,.4369,
.2332,.4358,.2337,.4332,.2810,.4273,.3129,.4144,.3273,.4118,.2565,.4096,.3586,.408,.2998,.4043,.2998,.3995,.2847,.4,
.2682,.3979,.2544,.3947,.264,.3893,.2549,.3807,.2757,.3914,.2911,.3888,.2932,.3738,.3953,.377,.3581,.3647,.3799,.3631,
.2241,.407,.2236,.3925,.2188,.4235,.24,.3599,.223,.3572,.2305,.3497,.23,.3422,.3092,.3465,.3475,.331,.5799,.339,
.2773,.3267,.3102,.3118,.2800,.3086,.2932,.3053,.2348,.3075,.2417,.308,.2396,.2898,.2177,.2872,.2571,.284,.2608,.2824,
.5596,.2717,.2534,.262,.2587,.2626,.3182,.2561,.3374,.2481,.2613,.2487,.2565,.2417,.2432,.2465,.2332,.2358,.3597,.2364,
.43,.2369,.3028,.2353,.2751,.231,.2241,.2225,.2316,.2123,.2177,.2027,.2847,.2016,.2852,.1941,.5559,.1791,.2783,.1743,
.2284,.1749,.2193,.1684,.2034,.1674,.2379,.1626,.1933,.1529,.2709,.139,.1864,.1417,.1975,.1209,.2135,.1021,.1667,.0775,
.2773,.0401,
]

tick_values = [0.0, 0.1, 0.2, 0.3, 0.4, 0.5, 0.6, 0.7]
one_to_one = [0, 0.7]

pairs = np.array(band_top + band_mid + band_low + band_base + cluster_low + wedge_left + right_side).reshape(-1, 2)
control = pairs[:, 0]
glacier = pairs[:, 1]

fig = plt.figure(figsize=(9.46, 9.22), dpi=200)
ax = fig.add_axes([168.7 / 1892, 131 / 1844, 1702.5 / 1892, 1693 / 1844])
ax.scatter(control, glacier, s=24, c="red", alpha=0.5, linewidths=0)
ax.plot(one_to_one, one_to_one, "k--", lw=1.5)
ax.set_xlim(0, 0.75)
ax.set_ylim(0, 0.75)
ax.set_xticks(tick_values)
ax.set_yticks(tick_values)
ax.tick_params(labelsize=16.2)
ax.set_xlabel("Threat score Control", fontsize=18.3, labelpad=3.3)
ax.set_ylabel("Threat score Glacier", fontsize=18.3, labelpad=4)
fig.savefig("out.png", dpi=200)
